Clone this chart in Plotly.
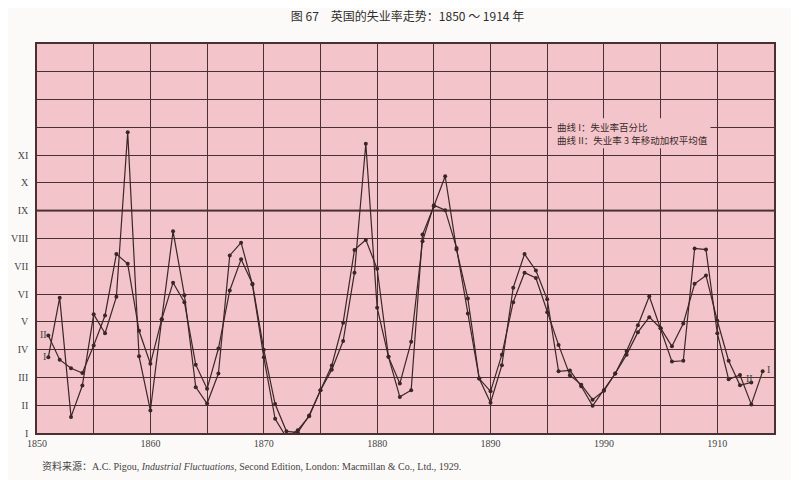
import plotly.graph_objects as go

# ---- data ----
years_I = list(range(1851, 1915))
curve_I = [3.73, 5.87, 1.58, 2.71, 5.27, 4.59, 5.90, 11.82, 3.76, 1.81,
           5.09, 8.26, 5.96, 2.65, 2.06, 3.14, 7.39, 7.85, 6.34, 3.73,
           1.51, 0.84, 1.10, 1.60, 2.54, 3.28, 4.31, 6.77, 11.41, 5.51,
           3.74, 2.30, 2.54, 8.14, 9.16, 10.24, 7.60, 5.84, 2.96, 2.09,
           3.44, 6.23, 7.44, 6.85, 5.81, 3.22, 3.25, 2.68, 1.98, 2.54,
           3.14, 3.95, 4.88, 5.92, 4.77, 3.57, 3.60, 7.64, 7.60, 4.59,
           2.93, 3.09, 2.03, 3.22]

years_II = list(range(1851, 1914))
curve_II = [4.51, 3.64, 3.33, 3.16, 4.15, 5.23, 7.44, 7.09, 4.68, 3.49,
            5.09, 6.41, 5.71, 3.46, 2.59, 4.04, 6.13, 7.25, 6.37, 4.00,
            2.04, 1.06, 1.02, 1.63, 2.54, 3.43, 4.97, 7.59, 7.95, 6.91,
            3.74, 2.78, 4.28, 7.90, 9.20, 9.02, 7.66, 5.30, 2.96, 2.50,
            3.82, 5.71, 6.77, 6.58, 5.35, 4.17, 3.08, 2.74, 2.20, 2.52,
            3.14, 3.82, 4.63, 5.17, 4.77, 4.12, 4.94, 6.37, 6.67, 5.04,
            3.60, 2.72, 2.82]

x_tick_vals = list(range(1850, 1916, 5))
x_tick_text = ["1850", "", "1860", "", "1870", "", "1880", "", "1890", "",
               "1990", "", "1910", ""]
y_tick_vals = list(range(1, 16))
y_tick_text = ["I", "II", "III", "IV", "V", "VI", "VII", "VIII", "IX", "X", "XI",
               "", "", "", ""]

title_text = "图 67　英国的失业率走势：1850 ～ 1914 年"
legend_lines = ["曲线 I：失业率百分比", "曲线 II：失业率 3 年移动加权平均值"]
source_text = ("资料来源：A.C. Pigou, <i>Industrial Fluctuations</i>, Second Edition, "
               "London: Macmillan &amp; Co., Ltd., 1929.")

# ---- styles ----
PINK = "#f3c5ca"
GRID = "#4a3033"
LINE = "#3b2627"
SERIF = "Liberation Serif, DejaVu Serif, serif"
CJK = "Noto Sans CJK SC, sans-serif"

fig = go.Figure()
fig.add_trace(go.Scatter(x=years_I, y=curve_I, mode="lines+markers",
                         line=dict(color=LINE, width=1.2),
                         marker=dict(color=LINE, size=4), cliponaxis=False,
                         name="I", showlegend=False))
fig.add_trace(go.Scatter(x=years_II, y=curve_II, mode="lines+markers",
                         line=dict(color=LINE, width=1.2),
                         marker=dict(color=LINE, size=4), cliponaxis=False,
                         name="II", showlegend=False))

fig.add_hline(y=9, line=dict(color="#6e4b4f", width=2.2), layer="below")

# blank panel behind the legend text (interrupts the grid as in the reference)
fig.add_shape(type="rect", xref="x", yref="y", x0=1895.4, x1=1909.4, y0=11.25, y1=12.33,
              fillcolor=PINK, line=dict(width=0), layer="above")

fig.update_layout(
    width=799, height=480,
    margin=dict(l=29, r=33, t=36, b=55, autoexpand=False),
    paper_bgcolor="#fcfaf8",
    plot_bgcolor=PINK,
    title=dict(text=title_text, x=0.5, xanchor="center", y=0.981, yanchor="middle",
               font=dict(family=CJK, size=12, color="#2e2e2e")),
    xaxis=dict(range=[1850, 1915], tickvals=x_tick_vals, ticktext=x_tick_text,
               showgrid=True, gridcolor=GRID, gridwidth=1.2, zeroline=False,
               showline=True, linecolor=GRID, linewidth=1.5, mirror=True,
               ticks="", ticklabelstandoff=0, automargin=False,
               tickfont=dict(family=SERIF, size=10, color="#444")),
    yaxis=dict(range=[1, 15], tickvals=y_tick_vals, ticktext=y_tick_text,
               showgrid=True, gridcolor=GRID, gridwidth=1.2, zeroline=False,
               showline=True, linecolor=GRID, linewidth=1.5, mirror=True,
               ticks="", ticklabelstandoff=5, automargin=False,
               tickfont=dict(family=SERIF, size=10, color="#444")),
)

# legend text (two separate lines)
for txt, yy in [(legend_lines[0], 12.0), (legend_lines[1], 11.54)]:
    fig.add_annotation(x=1895.7, y=yy, xref="x", yref="y", xanchor="left", yanchor="middle",
                       text=txt, align="left", showarrow=False,
                       font=dict(family=CJK, size=9.5, color="#3a2a2a"))

# curve labels
for txt, xx, yy, xa in [("II", 1850.1, 4.55, "left"), ("I", 1850.35, 3.75, "left"),
                        ("II", 1913.3, 2.95, "right"), ("I", 1914.2, 3.3, "left")]:
    fig.add_annotation(x=xx, y=yy, xref="x", yref="y", text=txt, showarrow=False,
                       xanchor=xa, yanchor="middle",
                       font=dict(family=SERIF, size=10, color="#444"))

# source note
fig.add_annotation(x=0.004, y=-0.085, xref="paper", yref="paper", xanchor="left",
                   yanchor="middle", text=source_text, showarrow=False,
                   font=dict(family="Liberation Serif, " + CJK, size=10, color="#444"))

fig.write_html("out.html")
